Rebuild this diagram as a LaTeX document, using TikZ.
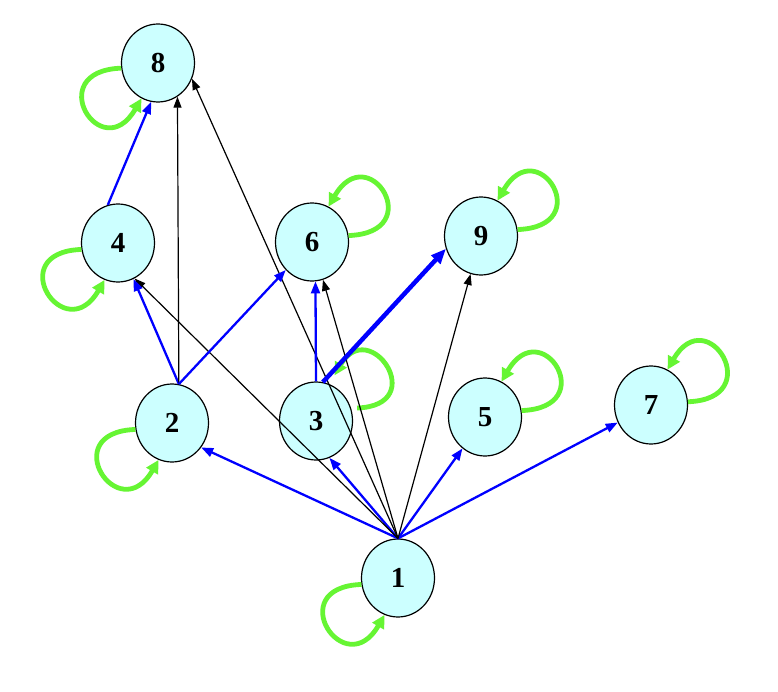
\documentclass[tikz,border=0pt]{standalone}
\usepackage{fontspec}
\setmainfont{Liberation Serif}
\usetikzlibrary{arrows.meta,shapes.geometric}
\definecolor{statefill}{RGB}{204,255,255}
\definecolor{loopgreen}{RGB}{102,245,51}

\begin{document}
\begin{tikzpicture}[
    x=1pt, y=1pt,
    state/.style={draw, line width=1.2pt, ellipse, fill=statefill, minimum width=73pt, minimum height=78pt, inner sep=0pt, font=\fontsize{29}{30}\selectfont\bfseries},
    bluearrow/.style={-{Triangle[length=12pt,width=9pt]}, blue, line width=2.3pt},
    blackarrow/.style={-{Triangle[length=11pt,width=8pt]}, line width=1.2pt},
    selfloop/.style={-{Triangle[length=13pt,width=13pt]}, loopgreen, line width=4.8pt},
    looplow/.style={selfloop, out=182, in=240, distance=80pt},
    loophigh/.style={selfloop, out=2, in=60, distance=80pt}
  ]
    \useasboundingbox (0,0) rectangle (778,-692);

    % states
    \node[state] (8) at (158,-63) {8};
    \node[state] (4) at (118,-243) {4};
    \node[state] (6) at (312,-242) {6};
    \node[state] (9) at (481,-236) {9};
    \node[state] (2) at (172,-423) {2};
    \node[state] (3) at (316,-421) {3};
    \node[state] (5) at (485,-417) {5};
    \node[state] (7) at (651,-405) {7};
    \node[state] (1) at (398,-578) {1};

    % self loops
    \draw[looplow] (8.188) to (8.245);
    \draw[looplow] (4.190) to (4.250);
    \draw[looplow] (2.190) to (2.250);
    \draw[looplow] (1.190) to (1.250);
    \draw[loophigh] (6.10) to (6.65);
    \draw[loophigh] (9.10) to (9.65);
    \draw[loophigh] (5.10) to (5.65);
    \draw[loophigh] (7.5) to (7.65);
    \draw[loophigh, shorten <=6pt, shorten >=10pt] (3.20) to (3.70);

    % edges out of 1
    \draw[bluearrow] (1.north) -- (2.-40);
    \draw[bluearrow] (1.north) -- (3.-70);
    \draw[bluearrow] (1.north) -- (5);
    \draw[bluearrow] (1.north) -- (7);
    \draw[blackarrow] (1.north) -- (4.-65);
    \draw[blackarrow] (1.north) -- (8.-25);
    \draw[blackarrow] (1.north) -- (6);
    \draw[blackarrow] (1.north) -- (9);

    % edges out of 2, 3, 4
    \draw[bluearrow] (2.80) -- (4);
    \draw[blackarrow] (2.80) -- (8.-60);
    \draw[bluearrow] (2.80) -- (6);
    \draw[bluearrow] (3.north) -- (6.-85);
    \draw[bluearrow, line width=4.5pt, -{Triangle[length=15pt,width=12pt]}] (3.80) -- (9.200);
    \draw[bluearrow] (4.105) -- (8.-100);
\end{tikzpicture}
\end{document}
